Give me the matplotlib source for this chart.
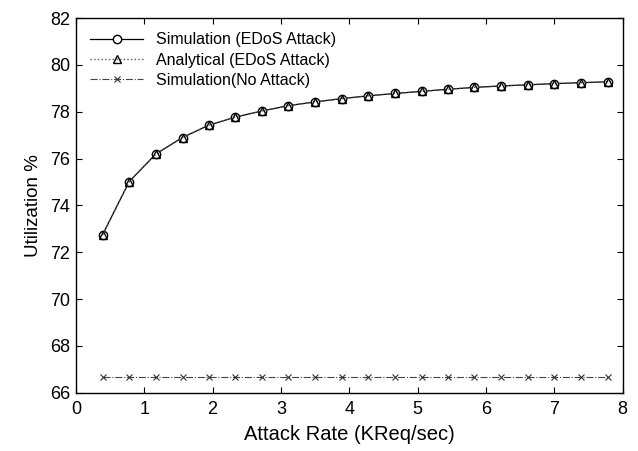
import numpy as np
import matplotlib
matplotlib.use('Agg')
import matplotlib.pyplot as plt

# Dados
taxa_ataque = [0.39, 0.78, 1.17, 1.56, 1.94, 2.33, 2.72, 3.11, 3.50, 3.89,
               4.28, 4.67, 5.06, 5.45, 5.83, 6.22, 6.61, 7.00, 7.39, 7.78]
sim_edos = [72.75, 75.02, 76.20, 76.90, 77.42, 77.77, 78.03, 78.26, 78.42, 78.56,
            78.68, 78.78, 78.87, 78.96, 79.04, 79.10, 79.15, 79.20, 79.24, 79.28]
ana_edos = [72.74, 75.01, 76.19, 76.90, 77.42, 77.77, 78.03, 78.26, 78.42, 78.56,
            78.68, 78.78, 78.87, 78.96, 79.04, 79.10, 79.15, 79.20, 79.24, 79.28]
sim_sem_ataque = [66.67] * len(taxa_ataque)

plt.rcParams['font.family'] = ['Liberation Sans', 'DejaVu Sans']

fig = plt.figure(figsize=(6.38, 4.51), dpi=100)
ax = fig.add_axes([0.119, 0.129, 0.857, 0.831])

ax.plot(taxa_ataque, sim_edos, '-', color='black', lw=0.9, marker='o', ms=6,
        mfc='white', mec='black', mew=1.0, label='Simulation (EDoS Attack)')
ax.plot(taxa_ataque, ana_edos, ':', color='#555555', lw=1.0, marker='^', ms=5.5,
        mfc='none', mec='black', mew=1.0, label='Analytical (EDoS Attack)')
ax.plot(taxa_ataque, sim_sem_ataque, '-.', color='#444444', lw=0.8, marker='x', ms=4,
        mec='#333333', mew=0.8, label='Simulation(No Attack)')

ax.set_xlim(0, 8)
ax.set_ylim(66, 82)
ax.set_xticks(np.arange(0, 9, 1))
ax.set_yticks(np.arange(66, 83, 2))
ax.tick_params(direction='in', top=True, right=True, labelsize=13, length=4)
ax.tick_params(axis='x', pad=6)
ax.tick_params(axis='y', pad=4)
for s in ax.spines.values():
    s.set_linewidth(1.0)

ax.set_xlabel('Attack Rate (KReq/sec)', fontsize=14.5, labelpad=5)
ax.set_ylabel('Utilization %', fontsize=13.5, labelpad=6)

ax.legend(loc='upper left', frameon=False, fontsize=11.5, numpoints=1,
          handlelength=3.3, handletextpad=0.8, labelspacing=0.32,
          borderaxespad=0.5, borderpad=0.4)

fig.savefig('out.png', dpi=100)
